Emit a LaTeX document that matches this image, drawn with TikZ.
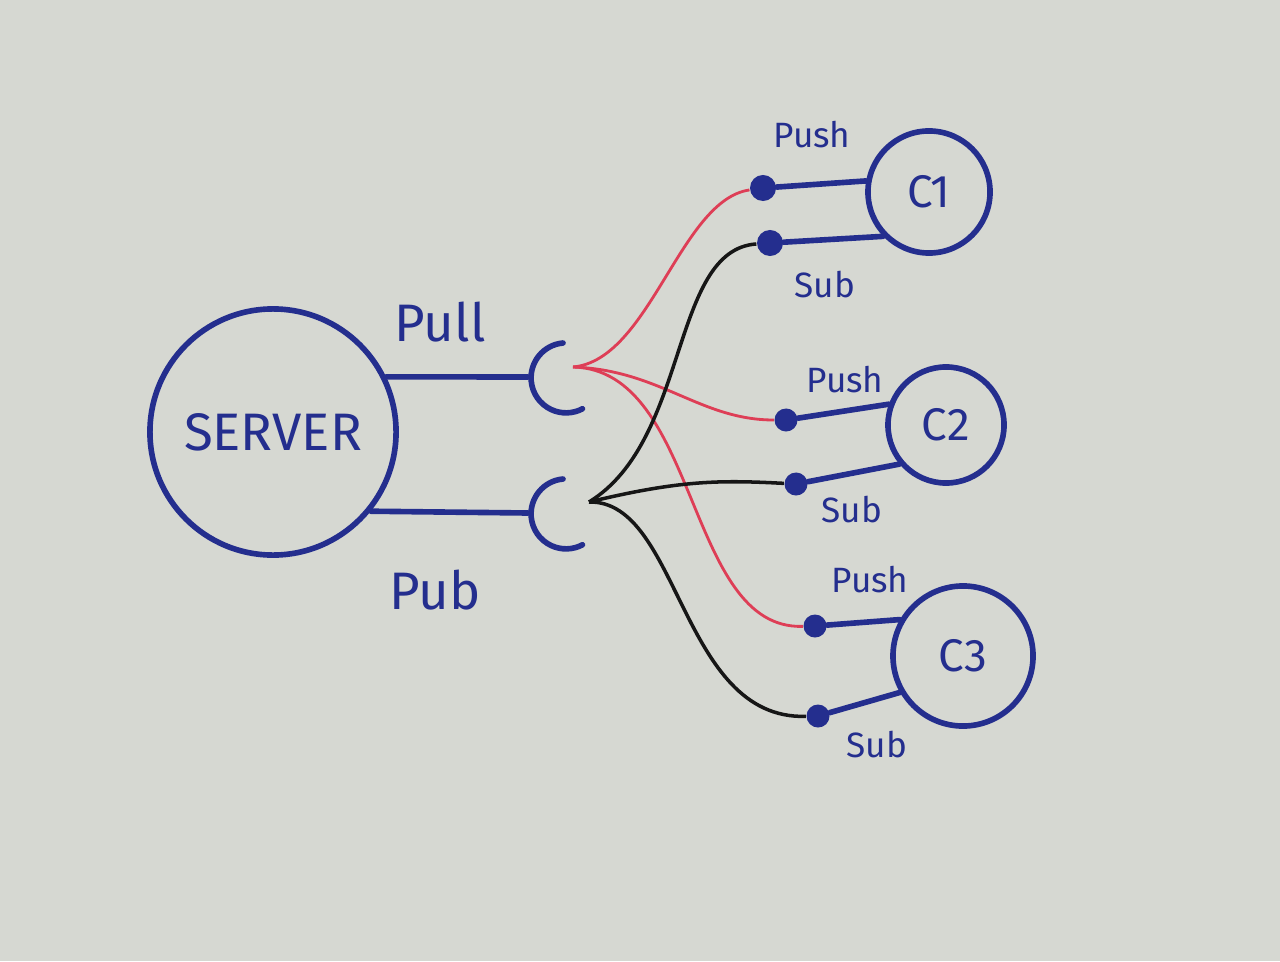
\documentclass[tikz,border=0pt]{standalone}
\usepackage{fontspec}
\setmainfont{Fira Sans}
\definecolor{paper}{RGB}{214,216,210}
\definecolor{ink}{RGB}{36,46,142}
\definecolor{redink}{RGB}{222,62,86}
\definecolor{blackink}{RGB}{22,22,22}
\tikzset{
  inkline/.style={draw=ink, line width=1.6pt, line cap=round},
  client/.style={circle, draw=ink, line width=1.6pt, inner sep=0pt, text=ink, font=\fontsize{13}{13}\selectfont},
  portdot/.style={circle, fill=ink, inner sep=0pt, minimum size=0.23cm},
  lbl/.style={text=ink, inner sep=0pt},
  biglbl/.style={lbl, font=\fontsize{15}{15}\selectfont},
  smalllbl/.style={lbl, font=\fontsize{10}{10}\selectfont},
  redwire/.style={draw=redink, line width=0.8pt},
  blackwire/.style={draw=blackink, line width=1pt},
}
\begin{document}
\begin{tikzpicture}[x=0.01cm, y=-0.01cm]
\fill[paper] (0,0) rectangle (1280,961);
\useasboundingbox (0,0) rectangle (1280,961);

% server
\node[client, minimum size=2.46cm, font=\fontsize{15}{15}\selectfont] (server) at (273,432) {SERVER};
% sockets
\coordinate (pullsock) at (528,377);
\coordinate (pubsock) at (528,513);
\draw[inkline] (563,343) arc[start angle=95, end angle=298, x radius=35, y radius=-35];
\draw[inkline] (563,479) arc[start angle=95, end angle=298, x radius=35, y radius=-35];
\draw[inkline] (server.26) -- (pullsock);
\draw[inkline] (server.-39) -- (pubsock);
\node[biglbl] (pulllbl) at (440,322) {Pull};
\node[biglbl] (publbl) at (435,590) {Pub};

\coordinate (redsrc) at (573,367);
\coordinate (blksrc) at (589,502);

% clients
\node[client, minimum size=1.22cm] (c1) at (929,192) {C1};
\node[client, minimum size=1.16cm] (c2) at (946,425) {C2};
\node[client, minimum size=1.40cm] (c3) at (963,656) {C3};

% ports
\node[portdot, minimum size=0.26cm] (c1push) at (763,188) {};
\node[portdot, minimum size=0.26cm] (c1sub) at (770,243) {};
\node[portdot] (c2push) at (786,420) {};
\node[portdot] (c2sub) at (796,484) {};
\node[portdot] (c3push) at (815,626) {};
\node[portdot] (c3sub) at (818,716) {};

\draw[inkline] (c1push) -- (c1.170);
\draw[inkline] (c1sub) -- (c1.224);
\draw[inkline] (c2push) -- (c2.160);
\draw[inkline] (c2sub) -- (c2.220);
\draw[inkline] (c3push) -- (c3.150);
\draw[inkline] (c3sub) -- (c3.210);

\node[smalllbl] (l1a) at (812,135) {Push};
\node[smalllbl] (l1b) at (825,285) {Sub};
\node[smalllbl] (l2a) at (845,380) {Push};
\node[smalllbl] (l2b) at (852,510) {Sub};
\node[smalllbl] (l3a) at (870,580) {Push};
\node[smalllbl] (l3b) at (877,745) {Sub};

% wires
\draw[redwire] (redsrc) .. controls (650,360) and (680,200) .. (c1push);
\draw[redwire] (redsrc) .. controls (660,370) and (700,420) .. (c2push);
\draw[redwire] (redsrc) .. controls (700,370) and (685,630) .. (c3push);
\draw[blackwire] (blksrc) .. controls (690,440) and (670,250) .. (c1sub);
\draw[blackwire] (blksrc) .. controls (680,480) and (720,480) .. (c2sub);
\draw[blackwire] (blksrc) .. controls (680,500) and (680,720) .. (c3sub);
\end{tikzpicture}
\end{document}
